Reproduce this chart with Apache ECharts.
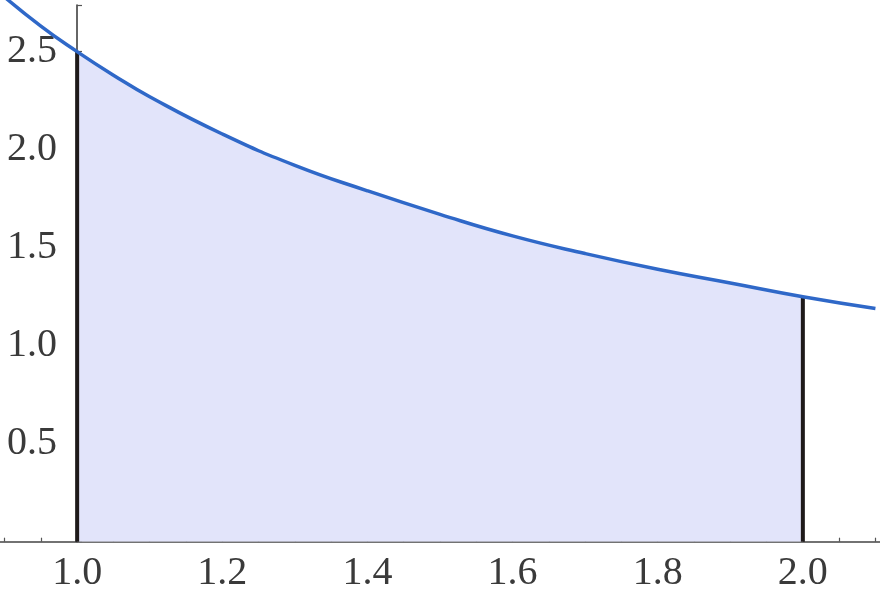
<!DOCTYPE html>
<html>
<head>
<meta charset="utf-8">
<script src="https://cdn.jsdelivr.net/npm/echarts@6/dist/echarts.min.js"></script>
<style>
  html, body { margin: 0; padding: 0; background: #fff; overflow: hidden; width: 880px; height: 608px; }
  /* wider than the window so the axis can run from 0.8 to 2.2 while only ~0.89..2.11 shows */
  #main { position: absolute; left: -71px; top: 0; width: 1022px; height: 608px; }
</style>
</head>
<body>
<div id="main"></div>
<script>
// curve points
var curveX = [0.89, 0.95, 1.0, 1.05, 1.1, 1.2, 1.3, 1.4, 1.5, 1.6, 1.7, 1.8, 1.9, 2.0, 2.1];
var curveY = [2.81, 2.63, 2.5, 2.38, 2.27, 2.08, 1.92, 1.79, 1.67, 1.56, 1.47, 1.39, 1.32, 1.25, 1.19];
// shaded region between the two bounds
var areaFrom = 1.0;
var areaTo = 2.0;
var xTicks = [1.0, 1.2, 1.4, 1.6, 1.8, 2.0];
var yTicks = [0.5, 1.0, 1.5, 2.0, 2.5];

var curve = [];
var area = [];
for (var i = 0; i < curveX.length; i++) {
  curve.push([curveX[i], curveY[i]]);
  if (curveX[i] >= areaFrom && curveX[i] <= areaTo) area.push([curveX[i], curveY[i]]);
}
var yAt = function (x) { return curveY[curveX.indexOf(x)]; };
var inList = function (list, v) { return list.some(function (t) { return Math.abs(t - v) < 1e-6; }); };

var font = "'Liberation Serif', 'DejaVu Serif', serif";
var chart = echarts.init(document.getElementById('main'));
chart.setOption({
  animation: false,
  grid: { left: 0, right: 0, top: 5, bottom: 66.3, containLabel: false },
  xAxis: {
    type: 'value', min: 0.8, max: 2.2, interval: 0.2,
    axisLine: { show: true, lineStyle: { color: '#444', width: 1.5 } },
    axisTick: { show: true, inside: true, length: 6, lineStyle: { color: '#555', width: 1.2 } },
    minorTick: { show: true, splitNumber: 4, length: 4, lineStyle: { color: '#555', width: 1.2 } },
    splitLine: { show: false },
    axisLabel: {
      margin: 12, fontFamily: font, fontSize: 40, color: '#3a3a3a',
      formatter: function (v) { return inList(xTicks, v) ? v.toFixed(1) : ''; }
    }
  },
  yAxis: {
    type: 'value', min: 0, max: 2.738, interval: 0.5, offset: -145,
    axisLine: { show: true, lineStyle: { color: '#333', width: 1.5 } },
    axisTick: { show: true, inside: true, length: 5, lineStyle: { color: '#555', width: 1.2 } },
    splitLine: { show: false },
    axisLabel: {
      margin: 20, fontFamily: font, fontSize: 40, color: '#3a3a3a',
      formatter: function (v) { return inList(yTicks, v) ? v.toFixed(1) : ''; }
    }
  },
  series: [
    {
      type: 'line', data: area, smooth: true, symbol: 'none',
      lineStyle: { width: 0 },
      areaStyle: { color: '#e2e4fa', opacity: 1 }
    },
    {
      type: 'line', data: [[areaFrom, 0], [areaFrom, yAt(areaFrom)]], symbol: 'none',
      lineStyle: { color: '#1e1a1a', width: 4 }
    },
    {
      type: 'line', data: [[areaTo, 0], [areaTo, yAt(areaTo)]], symbol: 'none',
      lineStyle: { color: '#1e1a1a', width: 4 }
    },
    {
      type: 'line', data: curve, smooth: true, symbol: 'none', clip: false,
      lineStyle: { color: '#2f68c8', width: 3.5 }
    }
  ]
});
</script>
</body>
</html>
